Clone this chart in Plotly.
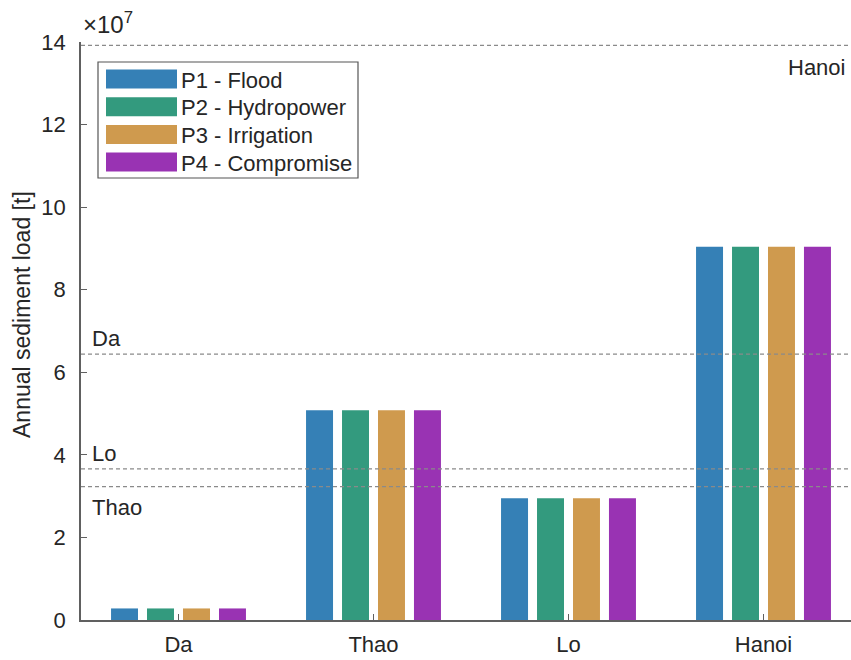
import plotly.graph_objects as go

# Sites along the river and annual sediment load per policy [t]
sites = ["Da", "Thao", "Lo", "Hanoi"]
policies = ["P1 - Flood", "P2 - Hydropower", "P3 - Irrigation", "P4 - Compromise"]
p1_flood = [0.28e7, 5.08e7, 2.95e7, 9.04e7]
p2_hydropower = [0.28e7, 5.08e7, 2.95e7, 9.04e7]
p3_irrigation = [0.28e7, 5.08e7, 2.95e7, 9.04e7]
p4_compromise = [0.28e7, 5.08e7, 2.95e7, 9.04e7]
series = [p1_flood, p2_hydropower, p3_irrigation, p4_compromise]
colors = ["#3580B6", "#339A7E", "#CF9A4E", "#9933B3"]

# Reference (natural) loads per site, drawn as dashed lines
ref_sites = ["Hanoi", "Da", "Lo", "Thao"]
ref_loads = [13.92e7, 6.44e7, 3.66e7, 3.23e7]

ytick_vals = [0, 2e7, 4e7, 6e7, 8e7, 10e7, 12e7, 14e7]
ytick_text = ["0", "2", "4", "6", "8", "10", "12", "14"]

FONT = "Liberation Sans, Arial, sans-serif"
TXT = "#262626"
AX = "#606060"
FS = 22

fig = go.Figure()
xpos = list(range(1, len(sites) + 1))
for name, vals, col in zip(policies, series, colors):
    fig.add_trace(go.Bar(x=xpos, y=vals, name=name, marker=dict(color=col, line=dict(width=0)),
                         showlegend=False))

W, H = 851, 660
ML, MR, MT, MB = 81, 0, 42, 40
pw, ph = W - ML - MR, H - MT - MB


def px_to_paper(px, py):
    return (px - ML) / pw, 1 - (py - MT) / ph


shapes = []
annotations = []
for site, load in zip(ref_sites, ref_loads):
    shapes.append(dict(type="line", xref="paper", yref="y", x0=0, x1=1, y0=load, y1=load,
                       line=dict(color="#8a8a8a", width=1.2, dash="4px,3px"), layer="above"))
    if site == "Hanoi":
        annotations.append(dict(x=0.995, xref="paper", y=load, yref="y", text=site, showarrow=False,
                                xanchor="right", yanchor="top", yshift=-8,
                                font=dict(family=FONT, size=FS, color=TXT)))
    elif site == "Thao":
        annotations.append(dict(x=0.012, xref="paper", y=load, yref="y", text=site, showarrow=False,
                                xanchor="left", yanchor="top", yshift=-6,
                                font=dict(family=FONT, size=FS, color=TXT)))
    else:
        annotations.append(dict(x=0.012, xref="paper", y=load, yref="y", text=site, showarrow=False,
                                xanchor="left", yanchor="bottom", yshift=1,
                                font=dict(family=FONT, size=FS, color=TXT)))

# Custom legend box with wide colour swatches
bx0, by0 = px_to_paper(98, 62)
bx1, by1 = px_to_paper(358, 178)
shapes.append(dict(type="rect", xref="paper", yref="paper", x0=bx0, x1=bx1, y0=by1, y1=by0,
                   line=dict(color="#555555", width=1.2), fillcolor="white", layer="above"))
row_h = 27.7
for i, (name, col) in enumerate(zip(policies, colors)):
    cy = 79 + i * row_h
    sx0, sy0 = px_to_paper(106, cy - 9.5)
    sx1, sy1 = px_to_paper(177, cy + 9.5)
    shapes.append(dict(type="rect", xref="paper", yref="paper", x0=sx0, x1=sx1, y0=sy1, y1=sy0,
                       line=dict(width=0), fillcolor=col, layer="above"))
    tx, ty = px_to_paper(179, cy + 1)
    annotations.append(dict(x=tx, y=ty, xref="paper", yref="paper", text=name, showarrow=False,
                            xanchor="left", yanchor="middle",
                            font=dict(family=FONT, size=FS, color=TXT)))

# Exponent multiplier above the y axis
annotations.append(dict(x=0, y=1, xref="paper", yref="paper", text="×10<sup>7</sup>", showarrow=False,
                        xanchor="left", yanchor="bottom", xshift=0, yshift=2,
                        font=dict(family=FONT, size=24, color=TXT)))
# Y axis title
tyx, tyy = px_to_paper(22, 315)
annotations.append(dict(x=tyx, y=tyy, xref="paper", yref="paper", text="Annual sediment load [t]",
                        showarrow=False, textangle=-90, xanchor="center", yanchor="middle",
                        font=dict(family=FONT, size=23, color=TXT)))

fig.update_layout(
    width=W, height=H,
    margin=dict(l=ML, r=MR, t=MT, b=MB, pad=0),
    paper_bgcolor="white", plot_bgcolor="white",
    barmode="group", bargap=0.262, bargroupgap=0.25,
    shapes=shapes, annotations=annotations,
    font=dict(family=FONT, color=TXT),
)
fig.update_xaxes(range=[0.5, 0.5 + pw / 195.0], tickvals=xpos, ticktext=sites,
                 ticks="inside", ticklen=6, tickcolor=AX, tickwidth=1.2,
                 showline=True, linecolor=AX, linewidth=1.5, showgrid=False, zeroline=False,
                 tickfont=dict(family=FONT, size=FS, color=TXT), ticklabelstandoff=4)
fig.update_yaxes(range=[0, 14e7], tickvals=ytick_vals, ticktext=ytick_text,
                 ticks="inside", ticklen=6, tickcolor=AX, tickwidth=1.2,
                 showline=True, linecolor=AX, linewidth=1.5, showgrid=False, zeroline=False,
                 tickfont=dict(family=FONT, size=FS, color=TXT), ticklabelstandoff=9)

fig.write_html("out.html")
